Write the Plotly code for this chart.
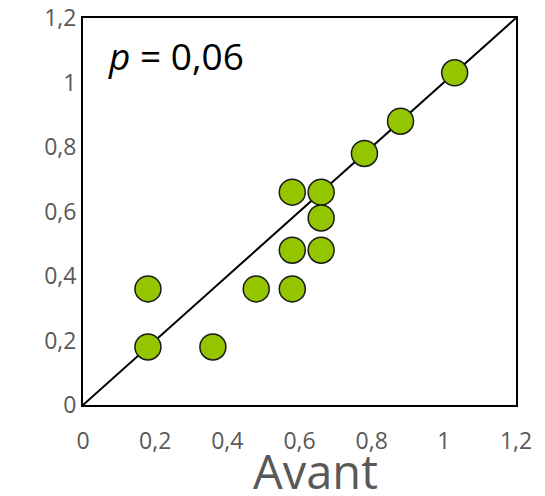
import plotly.graph_objects as go

# Data
avant = [0.18, 0.18, 0.36, 0.48, 0.58, 0.58, 0.58, 0.66, 0.66, 0.66, 0.78, 0.88, 1.03]
apres = [0.36, 0.18, 0.18, 0.36, 0.36, 0.48, 0.66, 0.66, 0.58, 0.48, 0.78, 0.88, 1.03]
diag_x = [0, 1.2]
diag_y = [0, 1.2]
tick_vals = [0, 0.2, 0.4, 0.6, 0.8, 1, 1.2]
tick_text = ["0", "0,2", "0,4", "0,6", "0,8", "1", "1,2"]

fig = go.Figure()
fig.add_trace(go.Scatter(x=diag_x, y=diag_y, mode="lines",
                         line=dict(color="black", width=2), showlegend=False,
                         hoverinfo="skip"))
fig.add_trace(go.Scatter(x=avant, y=apres, mode="markers",
                         marker=dict(size=26, color="#94c600",
                                     line=dict(color="#1a1a1a", width=1.5)),
                         showlegend=False))

axis_common = dict(range=[0, 1.2], tickvals=tick_vals, ticktext=tick_text,
                   showgrid=False, zeroline=False, showline=True, linecolor="black",
                   linewidth=2, mirror=True, ticks="", automargin=False,
                   tickfont=dict(family="Open Sans", size=23, color="#595959"))

fig.update_xaxes(**axis_common, ticklabelstandoff=14)
fig.update_yaxes(**axis_common, ticklabelstandoff=0)

fig.add_annotation(text="<i>p</i> = 0,06", xref="paper", yref="paper",
                   x=0.052, y=0.904, xanchor="left", yanchor="middle", showarrow=False,
                   font=dict(family="Open Sans", size=37, color="black"))
fig.add_annotation(text="Avant", xref="paper", yref="paper",
                   x=0.538, y=-0.17, xanchor="center", yanchor="middle", showarrow=False,
                   font=dict(family="Open Sans", size=47, color="#595959"))

fig.update_layout(template="none", width=545, height=496,
                  margin=dict(l=83, r=29, t=18, b=91, pad=0),
                  plot_bgcolor="white", paper_bgcolor="white")

fig.write_html("out.html", config={"displayModeBar": False},
               post_script="document.body.style.margin='0';")
